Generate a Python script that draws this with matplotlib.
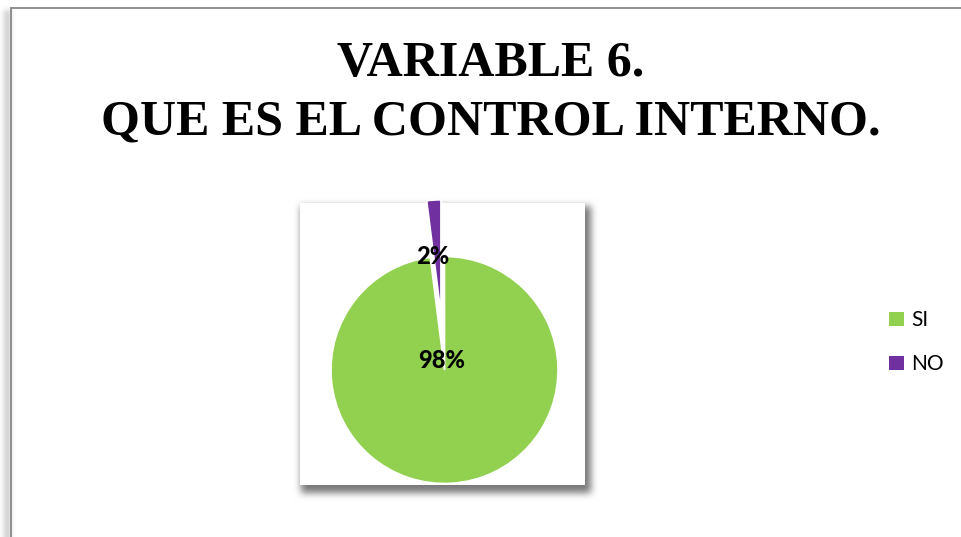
import numpy as np
import matplotlib
matplotlib.use("Agg")
import matplotlib.pyplot as plt
from matplotlib.patches import Rectangle, Patch
from matplotlib.lines import Line2D

# ---- data ----
labels = ['SI', 'NO']
values = [98, 2]
colors = ['#92D050', '#7030A0']
title_lines = ['VARIABLE 6.', 'QUE ES EL CONTROL INTERNO.']

W, H = 961, 537
fig = plt.figure(figsize=(W / 100, H / 100), dpi=100)
fig.patch.set_facecolor('white')


def box_blur(a, r, axis):
    c = np.cumsum(np.pad(a, [(r + 1, r) if i == axis else (0, 0) for i in range(2)], mode='edge'), axis=axis)
    if axis == 0:
        return (c[2 * r + 1:, :] - c[:-2 * r - 1, :]) / (2 * r + 1)
    return (c[:, 2 * r + 1:] - c[:, :-2 * r - 1]) / (2 * r + 1)


def blur(a, r):
    for _ in range(3):
        a = box_blur(a, r, 0)
        a = box_blur(a, r, 1)
    return a


# plot-area box (pixel coords, origin top-left)
px0, py0, px1, py1 = 300, 203, 585, 485

shadow = np.zeros((H, W))
shadow[py0 + 3:py1 + 8, px0 + 1:px1 + 6] = 1.0
shadow = blur(shadow, 3) * 0.7
sh2 = np.zeros((H, W))
sh2[10:, 4:11] = 1.0
sh2 = blur(sh2, 2) * 0.25
shadow = np.clip(shadow + sh2, 0, 1)
img = np.ones((H, W, 3)) * (1 - shadow[..., None] * 0.75)
fig.figimage(img, 0, 0, origin='upper', zorder=0)

# white plot area
fig.patches.append(Rectangle((px0 / W, 1 - py1 / H), (px1 - px0) / W, (py1 - py0) / H,
                             transform=fig.transFigure, facecolor='white', edgecolor='none', zorder=1))

# outer chart border
bx, by = 11, 7.5
fig.lines.append(Line2D([bx / W, bx / W], [0, 1 - by / H], transform=fig.transFigure,
                        color='#8f8f8f', lw=1.4, zorder=2))
fig.lines.append(Line2D([bx / W, 1], [1 - by / H, 1 - by / H], transform=fig.transFigure,
                        color='#8f8f8f', lw=1.4, zorder=2))

# pie axes
cx, cy, R = 444.5, 370.0, 113.5
ax_l, ax_r, ax_t, ax_b = 290.0, 600.0, 180.0, 537.0
ax = fig.add_axes([ax_l / W, 1 - ax_b / H, (ax_r - ax_l) / W, (ax_b - ax_t) / H], zorder=3)
ax.patch.set_alpha(0)
wedges, texts, autotexts = ax.pie(values, colors=colors, startangle=90, counterclock=False,
                                  explode=[0, 0.5], radius=1.0,
                                  autopct=lambda p: f'{p:.0f}%',
                                  wedgeprops=dict(edgecolor='white', linewidth=1.2),
                                  textprops=dict(family='Lato', weight='black', fontsize=17, color='black'))
ax.set_aspect('auto')
ax.set_xlim((ax_l - cx) / R, (ax_r - cx) / R)
ax.set_ylim((cy - ax_b) / R, (cy - ax_t) / R)
ax.axis('off')
for w in wedges:
    w.set_clip_on(False)
# label placement (Excel best-fit positions)
autotexts[0].set_position(((442 - cx) / R, (cy - 361) / R))
autotexts[1].set_position(((433 - cx) / R, (cy - 256) / R))
for t in autotexts:
    t.set_ha('center')
    t.set_va('center')

# title
fig.text(491 / W, 1 - 76 / H, title_lines[0], ha='center', va='baseline',
         family='Liberation Serif', weight='bold', fontsize=36, zorder=4)
fig.text(491 / W, 1 - 135 / H, title_lines[1], ha='center', va='baseline',
         family='Liberation Serif', weight='bold', fontsize=36, zorder=4)

# legend
handles = [Patch(facecolor=c, edgecolor='none') for c in colors]
fig.legend(handles, labels, loc='center left', bbox_to_anchor=(889 / W, 1 - 342 / H),
           frameon=False, borderpad=0, borderaxespad=0, handlelength=0.72, handleheight=0.68,
           handletextpad=0.35, labelspacing=1.15, prop=dict(family='Lato', size=15))

fig.savefig('out.png', dpi=100)
